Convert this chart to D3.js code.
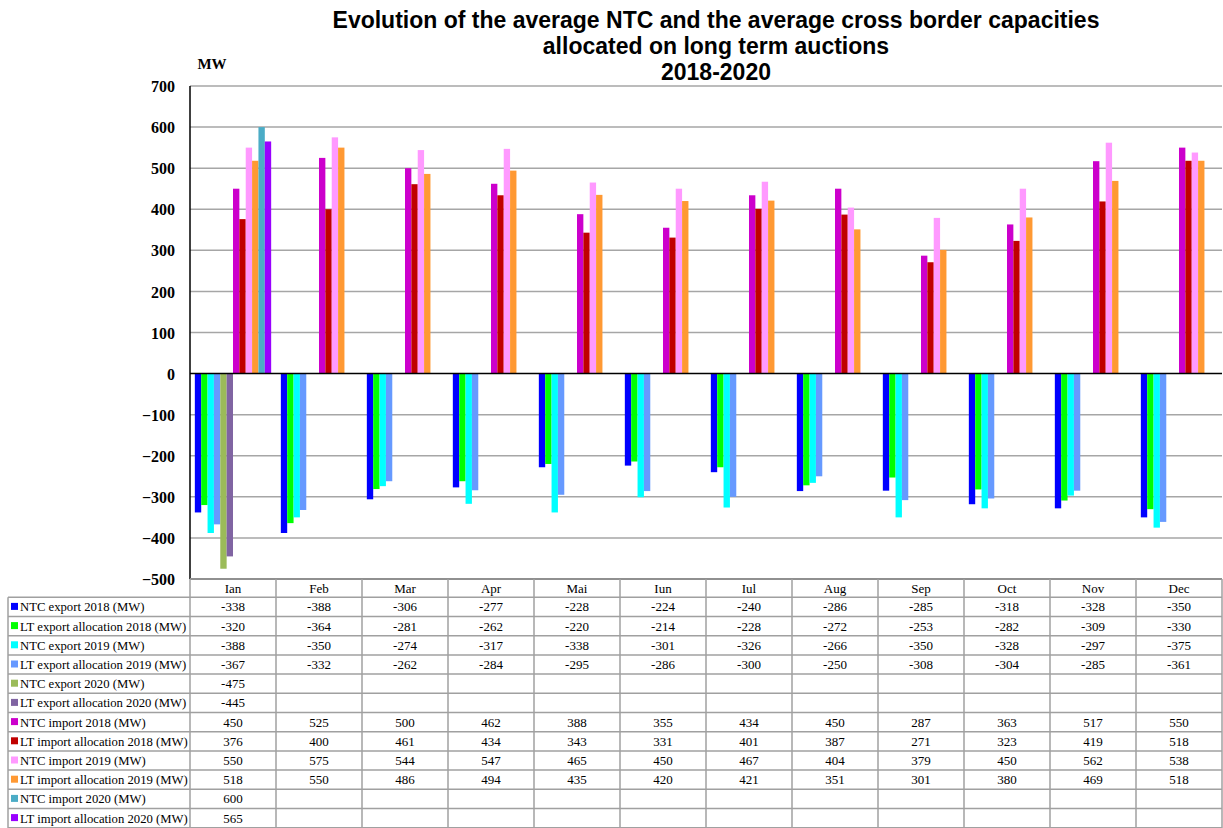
<!DOCTYPE html>
<html><head><meta charset="utf-8">
<script src="https://cdn.jsdelivr.net/npm/d3@7"></script>
<style>body{margin:0;background:#fff}svg{display:block}</style>
</head><body>
<script>
const months = ["Ian","Feb","Mar","Apr","Mai","Iun","Iul","Aug","Sep","Oct","Nov","Dec"];
const seriesNames = ["NTC export 2018 (MW)","LT export allocation 2018 (MW)","NTC export 2019 (MW)","LT export allocation 2019 (MW)","NTC export 2020 (MW)","LT export allocation 2020 (MW)","NTC import 2018 (MW)","LT import allocation 2018 (MW)","NTC import 2019 (MW)","LT import allocation 2019 (MW)","NTC import 2020 (MW)","LT import allocation 2020 (MW)"];
const seriesColors = ["#0000FF","#00FF00","#00FFFF","#6699FF","#9BBB59","#8064A2","#CC00CC","#C00000","#FF99FF","#FF9933","#4BACC6","#9900FF"];
const ntcExport2018 = [-338,-388,-306,-277,-228,-224,-240,-286,-285,-318,-328,-350];
const ltExport2018 = [-320,-364,-281,-262,-220,-214,-228,-272,-253,-282,-309,-330];
const ntcExport2019 = [-388,-350,-274,-317,-338,-301,-326,-266,-350,-328,-297,-375];
const ltExport2019 = [-367,-332,-262,-284,-295,-286,-300,-250,-308,-304,-285,-361];
const ntcExport2020 = [-475,null,null,null,null,null,null,null,null,null,null,null];
const ltExport2020 = [-445,null,null,null,null,null,null,null,null,null,null,null];
const ntcImport2018 = [450,525,500,462,388,355,434,450,287,363,517,550];
const ltImport2018 = [376,400,461,434,343,331,401,387,271,323,419,518];
const ntcImport2019 = [550,575,544,547,465,450,467,404,379,450,562,538];
const ltImport2019 = [518,550,486,494,435,420,421,351,301,380,469,518];
const ntcImport2020 = [600,null,null,null,null,null,null,null,null,null,null,null];
const ltImport2020 = [565,null,null,null,null,null,null,null,null,null,null,null];
const yTicks = [-500,-400,-300,-200,-100,0,100,200,300,400,500,600,700];
const titleLines = ["Evolution of the average NTC and the average cross border capacities","allocated on long term auctions","2018-2020"];

const seriesValues = [ntcExport2018,ltExport2018,ntcExport2019,ltExport2019,ntcExport2020,ltExport2020,ntcImport2018,ltImport2018,ntcImport2019,ltImport2019,ntcImport2020,ltImport2020];

(function(){
const W=1223,H=828;
const svg=d3.select("body").append("svg").attr("width",W).attr("height",H);
const pL=190,pR=1222,pT=86,pB=579;
const x0=d3.scaleBand().domain(months).range([pL,pR]).padding(0);
const x1=d3.scaleBand().domain(d3.range(12)).range([0,x0.bandwidth()]).paddingInner(0).paddingOuter(0.76);
const y=d3.scaleLinear().domain([-500,700]).range([pB,pT]);

svg.append("g").selectAll("text").data(titleLines).join("text")
  .attr("x",716).attr("y",(d,i)=>28+i*26).attr("text-anchor","middle")
  .attr("font-family","Liberation Sans, Arial, sans-serif").attr("font-weight","bold").attr("font-size",23)
  .text(d=>d);
svg.append("text").attr("x",212).attr("y",69).attr("text-anchor","middle")
  .attr("font-family","Liberation Serif, serif").attr("font-weight","bold").attr("font-size",15).text("MW");

svg.append("g").selectAll("line").data(yTicks.filter(t=>t!==0&&t!==-500)).join("line")
  .attr("x1",pL).attr("x2",pR).attr("y1",d=>y(d)).attr("y2",d=>y(d))
  .attr("stroke","#A6A6A6").attr("stroke-width",1.5);

const yAxis=d3.axisLeft(y).tickValues(yTicks).tickSize(0).tickPadding(15);
const ag=svg.append("g").attr("transform",`translate(${pL},0)`).call(yAxis);
ag.select(".domain").remove();
ag.selectAll("text").attr("font-family","Liberation Serif, serif").attr("font-weight","bold").attr("font-size",16).attr("fill","#000").attr("dy","0.35em");

const bars=[];
seriesValues.forEach((vals,si)=>vals.forEach((v,mi)=>{if(v!==null)bars.push({si,mi,v});}));
svg.append("g").selectAll("rect").data(bars).join("rect")
  .attr("x",d=>x0(months[d.mi])+x1(d.si)).attr("width",x1.bandwidth())
  .attr("y",d=>y(Math.max(0,d.v))).attr("height",d=>Math.abs(y(d.v)-y(0)))
  .attr("fill",d=>seriesColors[d.si]);

svg.append("line").attr("x1",pL).attr("x2",pL).attr("y1",pT).attr("y2",pB).attr("stroke","#000").attr("stroke-width",1.5);
svg.append("line").attr("x1",pL).attr("x2",pR).attr("y1",y(0)).attr("y2",y(0)).attr("stroke","#000").attr("stroke-width",1.5);

const tg=svg.append("g");
const rowTop=597.3,rowH=19.2;
const bc="#A0A0A0";
tg.append("line").attr("x1",pL).attr("x2",pR).attr("y1",pB).attr("y2",pB).attr("stroke","#909090").attr("stroke-width",2);
d3.range(13).forEach(i=>{
  tg.append("line").attr("x1",8).attr("x2",pR).attr("y1",rowTop+i*rowH).attr("y2",rowTop+i*rowH).attr("stroke",bc).attr("stroke-width",1.5);
});
tg.append("line").attr("x1",8).attr("x2",8).attr("y1",rowTop).attr("y2",H).attr("stroke",bc).attr("stroke-width",1.5);
months.forEach(m=>{
  tg.append("line").attr("x1",x0(m)).attr("x2",x0(m)).attr("y1",pB).attr("y2",H).attr("stroke",bc).attr("stroke-width",1.5);
});
tg.append("line").attr("x1",pR).attr("x2",pR).attr("y1",pB).attr("y2",H).attr("stroke",bc).attr("stroke-width",1.5);
tg.selectAll("text.m").data(months).join("text").attr("class","m")
  .attr("x",d=>x0(d)+x0.bandwidth()/2).attr("y",593).attr("text-anchor","middle")
  .attr("font-family","Liberation Serif, serif").attr("font-size",13).text(d=>d);
seriesNames.forEach((name,si)=>{
  const cy=rowTop+si*rowH+rowH/2;
  tg.append("rect").attr("x",11).attr("y",cy-4).attr("width",7).attr("height",7).attr("fill",seriesColors[si]);
  tg.append("text").attr("x",20).attr("y",cy+4.5).attr("font-family","Liberation Serif, serif").attr("font-size",12.7).text(name);
  seriesValues[si].forEach((v,mi)=>{
    if(v===null)return;
    tg.append("text").attr("x",x0(months[mi])+x0.bandwidth()/2).attr("y",cy+4.5).attr("text-anchor","middle")
      .attr("font-family","Liberation Serif, serif").attr("font-size",13).text(v);
  });
});
})();
</script>
</body></html>
